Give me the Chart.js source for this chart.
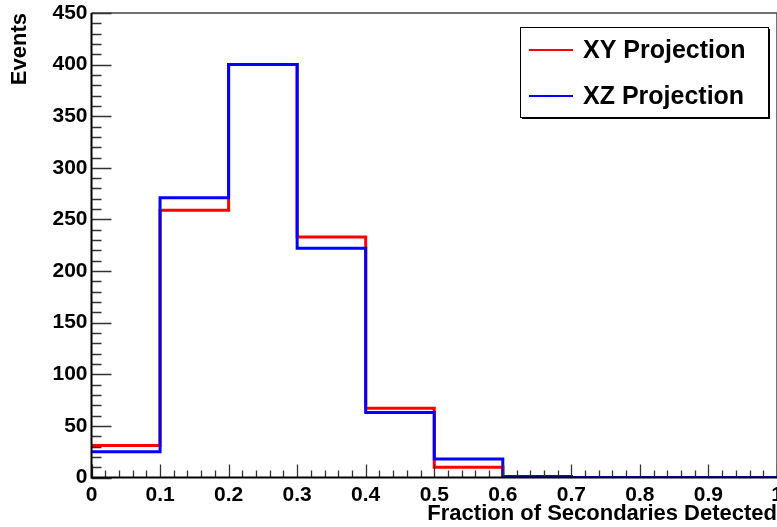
<!DOCTYPE html>
<html>
<head>
<meta charset="utf-8">
<script src="https://cdn.jsdelivr.net/npm/chart.js@4"></script>
<style>
  body { margin: 0; background: #fff; }
  canvas { display: block; }
</style>
</head>
<body>
<canvas id="hist" width="777" height="527"></canvas>
<script>
// bin edges of the histogram (fraction of secondaries detected)
const binEdges = [0, 0.1, 0.2, 0.3, 0.4, 0.5, 0.6, 0.7, 0.8, 0.9, 1.0]
// counts per bin
const xyCounts = [31, 259, 400, 233, 67, 10, 1, 0, 0, 0]
const xzCounts = [25, 271, 400, 222, 63, 18, 1, 0, 0, 0]
const seriesNames = ['XY Projection', 'XZ Projection']
const seriesColors = ['#ff0000', '#0000ff']

const yMax = 450
const yStep = 50
const xStep = 0.1

const FONT = 'Liberation Sans, Arial, Helvetica, sans-serif'

// step line: one point per edge, the last edge repeats the last bin
const histPoints = (counts) => binEdges.map((e, i) => ({ x: e, y: counts[Math.min(i, counts.length - 1)] }))

// ROOT style frame, inner ticks and boxed legend
const rootStyle = {
    id: 'rootStyle',
    afterDraw(chart) {
        const { ctx, chartArea: a, scales } = chart
        const xs = scales.x, ys = scales.y
        ctx.save()

        // frame top/right
        ctx.strokeStyle = '#444'
        ctx.lineWidth = 1.5
        ctx.beginPath()
        ctx.moveTo(a.left, a.top)
        ctx.lineTo(a.right, a.top)
        ctx.lineTo(a.right, a.bottom)
        ctx.stroke()

        // inner ticks
        ctx.strokeStyle = '#333'
        ctx.lineWidth = 1.3
        ctx.beginPath()
        for (let i = 0; i <= yMax / 10; i++) {
            const py = Math.round(ys.getPixelForValue(i * 10)) + 0.5
            const len = (i % 5 === 0) ? 20 : 10
            ctx.moveTo(a.left, py)
            ctx.lineTo(a.left + len, py)
        }
        for (let i = 0; i <= 50; i++) {
            const px = Math.round(xs.getPixelForValue(i * 0.02)) + 0.5
            const len = (i % 5 === 0) ? 13 : 7
            ctx.moveTo(px, a.bottom)
            ctx.lineTo(px, a.bottom - len)
        }
        ctx.stroke()

        // axes
        ctx.strokeStyle = '#000'
        ctx.lineWidth = 2
        ctx.beginPath()
        ctx.moveTo(a.left, a.top)
        ctx.lineTo(a.left, a.bottom)
        ctx.lineTo(a.right, a.bottom)
        ctx.stroke()

        // legend box
        const bx = 520, by = 27, bw = 248, bh = 90
        ctx.fillStyle = '#000'
        ctx.fillRect(bx + 2, by + bh, bw, 2)
        ctx.fillRect(bx + bw, by + 2, 2, bh)
        ctx.fillStyle = '#fff'
        ctx.fillRect(bx, by, bw, bh)
        ctx.strokeStyle = '#000'
        ctx.lineWidth = 1
        ctx.strokeRect(bx + 0.5, by + 0.5, bw, bh)

        ctx.font = 'bold 25px ' + FONT
        ctx.textBaseline = 'middle'
        ctx.textAlign = 'left'
        chart.data.datasets.forEach((ds, i) => {
            const ly = by + 23 + i * 46
            ctx.strokeStyle = ds.borderColor
            ctx.lineWidth = 2
            ctx.beginPath()
            ctx.moveTo(bx + 9, ly)
            ctx.lineTo(bx + 53, ly)
            ctx.stroke()
            ctx.fillStyle = '#000'
            ctx.fillText(ds.label, bx + 63, ly + 1)
        })
        ctx.restore()
    }
}

const histo = document.getElementById('hist')

new Chart(histo, {
    type: 'line',
    data: {
        datasets: [
            {
                label: seriesNames[0],
                data: histPoints(xyCounts),
                borderColor: seriesColors[0],
                borderWidth: 3,
                stepped: 'before',
                pointRadius: 0,
                fill: false,
                order: 2
            },
            {
                label: seriesNames[1],
                data: histPoints(xzCounts),
                borderColor: seriesColors[1],
                borderWidth: 3,
                stepped: 'before',
                pointRadius: 0,
                fill: false,
                order: 1
            }
        ]
    },
    options: {
        responsive: false,
        animation: false,
        devicePixelRatio: 1,
        layout: { padding: { top: 13, right: 0, left: 0, bottom: 0 } },
        plugins: {
            legend: { display: false },
            tooltip: { enabled: false }
        },
        scales: {
            x: {
                type: 'linear',
                min: binEdges[0],
                max: binEdges[binEdges.length - 1],
                grid: { display: false, drawTicks: false },
                border: { display: false },
                ticks: {
                    stepSize: xStep,
                    padding: 5,
                    color: '#000',
                    maxRotation: 0,
                    autoSkip: false,
                    font: { family: FONT, size: 21, weight: 'bold' },
                    callback: (v) => Number(v.toFixed(1)).toString()
                },
                title: {
                    display: true,
                    text: 'Fraction of Secondaries Detected',
                    align: 'end',
                    color: '#000',
                    padding: { top: 0, bottom: 0 },
                    font: { family: FONT, size: 22, weight: 'bold', lineHeight: 1.2 }
                },
                afterFit: (s) => { s.height = 49.5; s.paddingLeft = 0; s.paddingRight = 0 }
            },
            y: {
                min: 0,
                max: yMax,
                grid: { display: false, drawTicks: false },
                border: { display: false },
                ticks: {
                    stepSize: yStep,
                    padding: 4,
                    color: '#000',
                    font: { family: FONT, size: 21, weight: 'bold' }
                },
                title: {
                    display: true,
                    text: 'Events',
                    align: 'end',
                    color: '#000',
                    padding: { top: 7, bottom: 7 },
                    font: { family: FONT, size: 22, weight: 'bold', lineHeight: 1.2 }
                },
                afterFit: (s) => { s.width = 91.5; s.paddingTop = 0; s.paddingBottom = 0 }
            }
        }
    },
    plugins: [rootStyle]
})
</script>
</body>
</html>
